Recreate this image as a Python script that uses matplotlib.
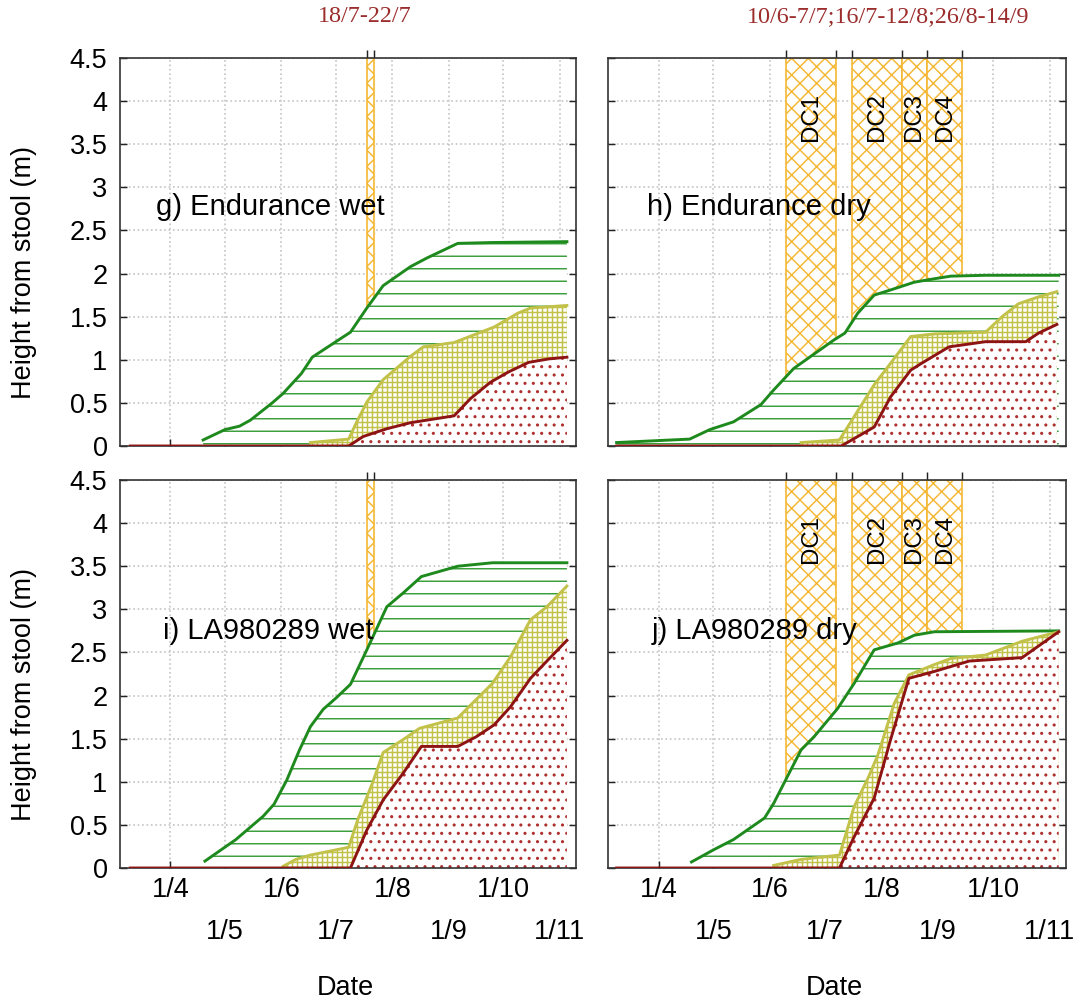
import matplotlib
matplotlib.use('Agg')
import matplotlib.pyplot as plt

plt.rcParams['font.family'] = ['Liberation Sans', 'DejaVu Sans']
plt.rcParams['hatch.linewidth'] = 0.7

# x axis is day of year (non-leap year)
even_month_days = [91, 152, 213, 274]
even_month_labels = ['1/4', '1/6', '1/8', '1/10']
odd_month_days = [121, 182, 244, 305]
odd_month_labels = ['1/5', '1/7', '1/9', '1/11']

wet_bands = [(199, 203)]
dry_bands = [(161, 188), (197, 224), (224, 238), (238, 257)]
dry_band_names = ['DC1', 'DC2', 'DC3', 'DC4']
wet_period = '18/7-22/7'
dry_period = '10/6-7/7;16/7-12/8;26/8-14/9'

# g) Endurance wet
g_green_d = [109, 121, 129, 135, 147, 153, 163, 169, 182, 190, 199, 208, 223, 232, 249, 268, 309]
g_green_h = [0.07, 0.19, 0.23, 0.30, 0.50, 0.61, 0.84, 1.03, 1.21, 1.32, 1.60, 1.86, 2.08, 2.18, 2.35, 2.36, 2.37]
g_yellow_d = [168, 189, 193, 199, 208, 213, 223, 230, 247, 258, 269, 282, 289, 309]
g_yellow_h = [0.04, 0.08, 0.26, 0.51, 0.77, 0.86, 1.04, 1.15, 1.20, 1.29, 1.38, 1.54, 1.60, 1.63]
g_red_d = [69, 189, 197, 210, 223, 247, 256, 267, 277, 288, 299, 309]
g_red_h = [0, 0, 0.11, 0.20, 0.27, 0.35, 0.55, 0.74, 0.86, 0.97, 1.01, 1.03]

# h) Endurance dry
h_green_d = [68, 98, 108, 119, 132, 147, 154, 165, 173, 187, 193, 200, 209, 218, 231, 242, 251, 270, 310]
h_green_h = [0.04, 0.07, 0.08, 0.19, 0.28, 0.48, 0.65, 0.90, 1.02, 1.23, 1.31, 1.54, 1.75, 1.81, 1.90, 1.94, 1.97, 1.98, 1.98]
h_yellow_d = [169, 190, 198, 209, 218, 229, 242, 270, 279, 288, 299, 309]
h_yellow_h = [0.04, 0.07, 0.34, 0.71, 0.96, 1.27, 1.30, 1.32, 1.50, 1.65, 1.73, 1.79]
h_red_d = [68, 191, 209, 218, 229, 235, 250, 270, 292, 299, 309]
h_red_h = [0, 0, 0.22, 0.57, 0.88, 0.96, 1.15, 1.21, 1.21, 1.31, 1.41]

# i) LA980289 wet
i_green_d = [110, 127, 142, 148, 155, 162, 168, 175, 182, 190, 199, 210, 219, 229, 249, 268, 309]
i_green_h = [0.08, 0.33, 0.60, 0.74, 1.02, 1.37, 1.64, 1.84, 1.97, 2.13, 2.53, 3.03, 3.19, 3.38, 3.50, 3.54, 3.54]
i_yellow_d = [153, 160, 168, 189, 194, 202, 208, 219, 228, 249, 257, 268, 278, 289, 298, 309]
i_yellow_h = [0.02, 0.10, 0.15, 0.24, 0.56, 0.98, 1.34, 1.49, 1.62, 1.74, 1.91, 2.14, 2.45, 2.88, 3.03, 3.27]
i_red_d = [69, 190, 199, 208, 219, 229, 249, 259, 269, 278, 289, 298, 309]
i_red_h = [0, 0, 0.44, 0.79, 1.10, 1.41, 1.41, 1.52, 1.66, 1.87, 2.20, 2.40, 2.64]

# j) LA980289 dry
j_green_d = [109, 121, 132, 149, 154, 161, 169, 176, 189, 198, 209, 222, 231, 242, 310]
j_green_h = [0.07, 0.21, 0.33, 0.58, 0.75, 1.04, 1.37, 1.52, 1.85, 2.14, 2.53, 2.61, 2.70, 2.74, 2.75]
j_yellow_d = [154, 169, 190, 198, 206, 211, 220, 228, 242, 251, 270, 290, 310]
j_yellow_h = [0.03, 0.10, 0.15, 0.71, 1.06, 1.31, 1.91, 2.24, 2.36, 2.43, 2.47, 2.63, 2.74]
j_red_d = [68, 190, 198, 209, 218, 228, 242, 261, 290, 310]
j_red_h = [0, 0, 0.36, 0.81, 1.49, 2.20, 2.28, 2.40, 2.44, 2.74]

GREEN = '#1e8a1e'
GREEN_H = '#3a9e3a'
OLIVE = '#c2c24a'
RED = '#8e1414'
RED_DOT = '#b03030'
ORANGE = '#f5b733'
TITLE_RED = '#9b2d2d'

W, H = 1077, 1005
fig = plt.figure(figsize=(W / 150, H / 150), dpi=150)

panels = [
    ('g) Endurance wet', [120, 58, 456, 388], wet_bands, False,
     (g_green_d, g_green_h), (g_yellow_d, g_yellow_h), (g_red_d, g_red_h), 83, 2.77),
    ('h) Endurance dry', [608, 58, 458, 388], dry_bands, True,
     (h_green_d, h_green_h), (h_yellow_d, h_yellow_h), (h_red_d, h_red_h), 84.5, 2.77),
    ('i) LA980289 wet', [120, 480, 456, 388], wet_bands, False,
     (i_green_d, i_green_h), (i_yellow_d, i_yellow_h), (i_red_d, i_red_h), 87, 2.75),
    ('j) LA980289 dry', [608, 480, 458, 388], dry_bands, True,
     (j_green_d, j_green_h), (j_yellow_d, j_yellow_h), (j_red_d, j_red_h), 87, 2.75),
]

for n, (label, box, bands, dry, green, yellow, red, lx, ly) in enumerate(panels):
    l, t, w, h = box
    ax = fig.add_axes([l / W, 1 - (t + h) / H, w / W, h / H])
    ax.set_xlim(63.3, 314)
    ax.set_ylim(0, 4.5)
    ax.set_axisbelow(True)

    for (a, b) in bands:
        ax.axvspan(a, b, facecolor='white', edgecolor=ORANGE, hatch='xxx',
                   linewidth=0.8, zorder=1)
    if dry:
        for (a, b), name in zip(bands, dry_band_names):
            ax.text((a + b) / 2, 3.81, name, rotation=90, ha='center', va='center',
                    fontsize=11.5, zorder=5)

    ax.fill_between(green[0], green[1], 0, facecolor='white', edgecolor=GREEN_H,
                    hatch='--', linewidth=0, zorder=2)
    ax.fill_between(yellow[0], yellow[1], 0, facecolor='white', edgecolor=OLIVE,
                    hatch='+++++', linewidth=0, zorder=2.1)
    ax.fill_between(red[0], red[1], 0, facecolor='white', edgecolor=RED_DOT,
                    hatch='...', linewidth=0, zorder=2.2)
    ax.plot(green[0], green[1], color=GREEN, lw=1.4, zorder=3)
    ax.plot(yellow[0], yellow[1], color=OLIVE, lw=1.4, zorder=3.1)
    ax.plot(red[0], red[1], color=RED, lw=1.4, zorder=3.2)

    ax.text(lx, ly, label, fontsize=14, ha='left', va='center', zorder=5)

    ax.set_yticks([0, 0.5, 1, 1.5, 2, 2.5, 3, 3.5, 4, 4.5],
                  ['0', '0.5', '1', '1.5', '2', '2.5', '3', '3.5', '4', '4.5'])
    ax.set_xticks(even_month_days, even_month_labels)
    ax.set_xticks(odd_month_days, odd_month_labels, minor=True)
    ax.tick_params(axis='both', which='both', direction='in', length=3.5,
                   width=0.7, labelsize=13, colors='#222222', labelcolor='black')
    ax.tick_params(axis='y', right=True, pad=6)
    ax.tick_params(axis='x', which='major', pad=4.5)
    ax.tick_params(axis='x', which='minor', pad=24.5)
    ax.grid(True, which='both', axis='x', color='#c4c4c4', linestyle=':', linewidth=0.8)
    ax.grid(True, which='major', axis='y', color='#c4c4c4', linestyle=':', linewidth=0.8)
    for s in ax.spines.values():
        s.set_color('#333333')
        s.set_linewidth(0.8)

    # band limits marked on the top edge
    top = ax.secondary_xaxis('top')
    top.set_xticks(sorted(set([v for ab in bands for v in ab])))
    top.tick_params(direction='out', length=4, width=0.7, labeltop=False, colors='#222222')
    top.spines['top'].set_visible(False)

    if n % 2 == 1:
        ax.tick_params(axis='y', labelleft=False)
    else:
        ax.set_ylabel('Height from stool (m)', fontsize=13)
        ax.yaxis.set_label_coords(-0.182, 0.446)
    if n < 2:
        ax.tick_params(axis='x', which='both', labelbottom=False)
    else:
        ax.set_xlabel('Date', fontsize=13)
        ax.xaxis.set_label_coords(0.495, -0.276)
        ax.xaxis.label.set_va('top')

fig.text(365 / W, 1 - 17 / H, wet_period, color=TITLE_RED, fontsize=11.6,
         family=['Liberation Serif', 'DejaVu Serif'], ha='center', va='center')
fig.text(888 / W, 1 - 17 / H, dry_period, color=TITLE_RED, fontsize=11.6,
         family=['Liberation Serif', 'DejaVu Serif'], ha='center', va='center')

fig.savefig('out.png', dpi=150)
